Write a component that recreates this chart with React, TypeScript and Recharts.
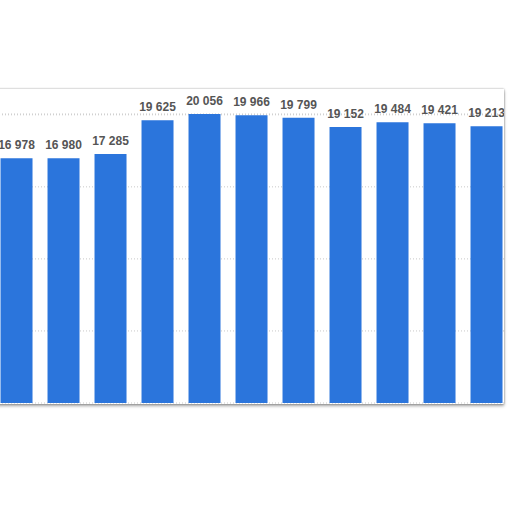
import { BarChart, Bar, XAxis, YAxis, CartesianGrid, LabelList } from 'recharts'

const CATEGORIES = ['2008', '2009', '2010', '2011', '2012', '2013', '2014', '2015', '2016', '2017', '2018']
const VALUES = [16978, 16980, 17285, 19625, 20056, 19966, 19799, 19152, 19484, 19421, 19213]
const Y_TICKS = [0, 5000, 10000, 15000, 20000]

const data = CATEGORIES.map((name, i) => ({ name, value: VALUES[i] }))

const fmt = (v: number) => String(v).replace(/\B(?=(\d{3})+(?!\d))/g, ' ')

// plain text label, no wrapping to bar width
const ValueLabel = (props: any) => {
  const { x, y, width, value } = props
  return (
    <text
      x={x + width / 2}
      y={y - 9}
      textAnchor="middle"
      fill="#555"
      style={{ fontSize: 12, fontWeight: 700, fontFamily: '"Liberation Sans", Arial, sans-serif' }}
    >
      {fmt(value)}
    </text>
  )
}

export default function App() {
  return (
    <div style={{ position: 'fixed', left: 0, top: 0, width: 512, height: 512, background: '#fff', overflow: 'hidden' }}>
      <div
        style={{
          position: 'absolute', left: -10, top: 89, width: 514, height: 315, overflow: 'hidden',
          background: '#fff', boxShadow: '0 2px 3px rgba(0,0,0,0.35), 0 0 2px rgba(0,0,0,0.35)',
        }}
      >
        <div style={{ position: 'absolute', left: 3, top: -89 }}>
          <BarChart width={517} height={404} data={data} barCategoryGap="16%" margin={{ top: 114, right: 0, bottom: 1, left: 0 }}>
            <CartesianGrid vertical={false} strokeDasharray="1 2" stroke="#c8c8c8" />
            <XAxis dataKey="name" hide />
            <YAxis hide domain={[0, 20000]} ticks={Y_TICKS} />
            <Bar dataKey="value" fill="#2b75dc" isAnimationActive={false}>
              <LabelList dataKey="value" content={ValueLabel} />
            </Bar>
          </BarChart>
        </div>
      </div>
    </div>
  )
}
